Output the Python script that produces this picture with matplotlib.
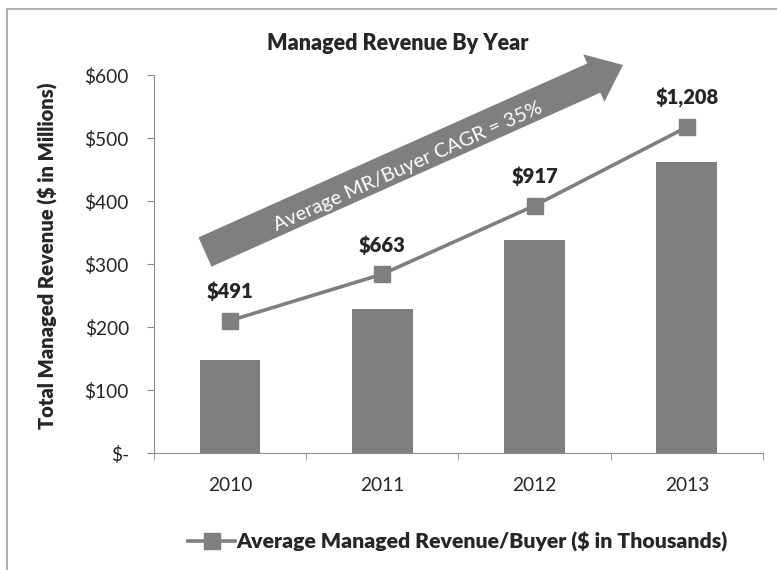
import matplotlib
matplotlib.use('Agg')
from matplotlib import pyplot as plt
from matplotlib.patches import FancyArrow, Rectangle
from matplotlib.lines import Line2D
import numpy as np

years = ['2010', '2011', '2012', '2013']
total_mr = [148, 229, 338, 462]          # $ in millions (bars)
avg_mr_buyer = [491, 663, 917, 1208]     # $ in thousands (line)
avg_labels = ['$491', '$663', '$917', '$1,208']
y_ticks = [0, 100, 200, 300, 400, 500, 600]
y_tick_labels = ['$-', '$100', '$200', '$300', '$400', '$500', '$600']

grey = '#7f7f7f'
axis_grey = '#8c8c8c'
text_dark = '#262626'

plt.rcParams['font.family'] = ['Lato', 'DejaVu Sans']

fig = plt.figure(figsize=(7.77, 5.70), dpi=100)
ax = fig.add_axes([0.198, 0.205, 0.784, 0.663])

# outer chart border
fig.patches.append(Rectangle((7 / 777, -0.05), 1.2, 1 - 9 / 570 + 0.05,
                             transform=fig.transFigure, fill=False,
                             edgecolor='#a6a6a6', linewidth=1.2))

x = np.arange(len(years))
ax.bar(x, total_mr, width=0.4, color=grey, zorder=2)
ax.set_xlim(-0.5, len(years) - 0.5)
ax.set_ylim(0, 600)
ax.set_yticks(y_ticks)
ax.set_yticklabels(y_tick_labels)
ax.set_xticks(x)
ax.set_xticklabels(years)
ax.set_xticks(np.arange(-0.5, len(years)), minor=True)
ax.tick_params(axis='x', which='major', length=0, pad=17, labelsize=13.8,
               labelcolor=text_dark)
ax.tick_params(axis='x', which='minor', length=5, color=axis_grey)
ax.tick_params(axis='y', length=5, color=axis_grey, pad=13, labelsize=13.8,
               labelcolor=text_dark)
for s in ['top', 'right']:
    ax.spines[s].set_visible(False)
for s in ['left', 'bottom']:
    ax.spines[s].set_color(axis_grey)

# line on hidden secondary axis
ax2 = ax.twinx()
ax2.set_ylim(0, 1400)
ax2.axis('off')
ax2.plot(x, avg_mr_buyer, color=grey, linewidth=2.6, marker='s',
         markersize=12, zorder=3, clip_on=False)
for xi, v, lab in zip(x, avg_mr_buyer, avg_labels):
    ax2.annotate(lab, (xi, v), xytext=(0, 21), textcoords='offset points',
                 ha='center', va='center', fontsize=14.5, fontweight='heavy',
                 color=text_dark)

# CAGR arrow
arrow = FancyArrow(2.05, 3.18, 4.18, 1.87, width=0.32, head_width=0.52,
                   head_length=0.32, length_includes_head=True,
                   color=grey, linewidth=0, transform=fig.dpi_scale_trans)
fig.patches.append(arrow)
fig.text(4.08, 4.03, 'Average MR/Buyer CAGR = 35%', transform=fig.dpi_scale_trans,
         rotation=24.1, rotation_mode='anchor', ha='center', va='center',
         color='white', fontsize=14.5)

fig.text(398 / 777, 1 - 43 / 570, 'Managed Revenue By Year', ha='center',
         va='center', fontsize=15.5, fontweight='heavy', color=text_dark)
fig.text(48 / 777, 1 - 256 / 570, 'Total Managed Revenue ($ in Millions)',
         rotation=90, ha='center', va='center', fontsize=14.5,
         fontweight='heavy', color=text_dark)

handle = Line2D([], [], color=grey, linewidth=2.6, marker='s', markersize=12)
fig.legend([handle], ['Average Managed Revenue/Buyer ($ in Thousands)'],
           loc='center', bbox_to_anchor=(458 / 777, 1 - 542 / 570),
           frameon=False, handlelength=2.2, handletextpad=0.05,
           prop={'weight': 'heavy', 'size': 15.3}, labelcolor=text_dark)

plt.savefig('out.png', dpi=100)
